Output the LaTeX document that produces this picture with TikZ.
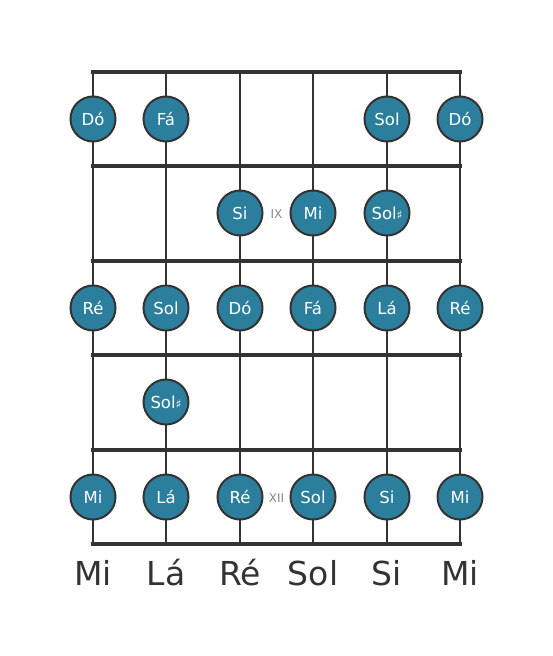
\documentclass[tikz,border=0pt]{standalone}
\usepackage{fontspec}
\setmainfont{DejaVu Sans}
\definecolor{noteteal}{HTML}{2C7F9C}
\definecolor{linegray}{HTML}{333333}
\definecolor{fretnum}{HTML}{888888}
\begin{document}
\begin{tikzpicture}[x=1pt,y=-1pt,
  stringline/.style={draw=linegray,line width=2.5pt},
  fretline/.style={draw=linegray,line width=4.5pt},
  notedot/.style={circle,fill=noteteal,draw=linegray,line width=2pt,minimum size=45pt,inner sep=0pt,text=white,font=\fontsize{16.5}{16.5}\selectfont},
  fretlabel/.style={text=fretnum,font=\fontsize{12}{12}\selectfont},
  openlabel/.style={text=linegray,font=\fontsize{33}{33}\selectfont}]
\useasboundingbox (0,0) rectangle (553,656);
% strings
\foreach \i/\x in {1/93,2/166,3/240,4/313,5/387,6/460}{
  \coordinate (st\i) at (\x,72);
  \coordinate (sb\i) at (\x,544);
  \draw[stringline] (st\i) -- (sb\i);
}
% frets
\foreach \j/\y in {0/72,1/166,2/261,3/355,4/450,5/544}{
  \coordinate (fl\j) at (91,\y);
  \coordinate (fr\j) at (462,\y);
  \draw[fretline] (fl\j) -- (fr\j);
}
% row 1
\node[notedot] (n11) at (93,119) {Dó};
\node[notedot] (n12) at (166,119) {Fá};
\node[notedot] (n15) at (387,119) {Sol};
\node[notedot] (n16) at (460,119) {Dó};
% row 2
\node[notedot] (n23) at (240,213) {Si};
\node[notedot] (n24) at (313,213) {Mi};
\node[notedot] (n25) at (387,213) {Sol{\fontsize{12}{12}\selectfont♯}};
\node[fretlabel] (ix) at (276.5,214) {IX};
% row 3
\node[notedot] (n31) at (93,308) {Ré};
\node[notedot] (n32) at (166,308) {Sol};
\node[notedot] (n33) at (240,308) {Dó};
\node[notedot] (n34) at (313,308) {Fá};
\node[notedot] (n35) at (387,308) {Lá};
\node[notedot] (n36) at (460,308) {Ré};
% row 4
\node[notedot] (n42) at (166,402) {Sol{\fontsize{12}{12}\selectfont♯}};
% row 5
\node[notedot] (n51) at (93,497) {Mi};
\node[notedot] (n52) at (166,497) {Lá};
\node[notedot] (n53) at (240,497) {Ré};
\node[notedot] (n54) at (313,497) {Sol};
\node[notedot] (n55) at (387,497) {Si};
\node[notedot] (n56) at (460,497) {Mi};
\node[fretlabel] (xii) at (276.5,498) {XII};
% open string names
\node[openlabel] (o1) at (93,573) {Mi};
\node[openlabel] (o2) at (166,573) {Lá};
\node[openlabel] (o3) at (240,573) {Ré};
\node[openlabel] (o4) at (313,573) {Sol};
\node[openlabel] (o5) at (387,573) {Si};
\node[openlabel] (o6) at (460,573) {Mi};
\end{tikzpicture}
\end{document}
